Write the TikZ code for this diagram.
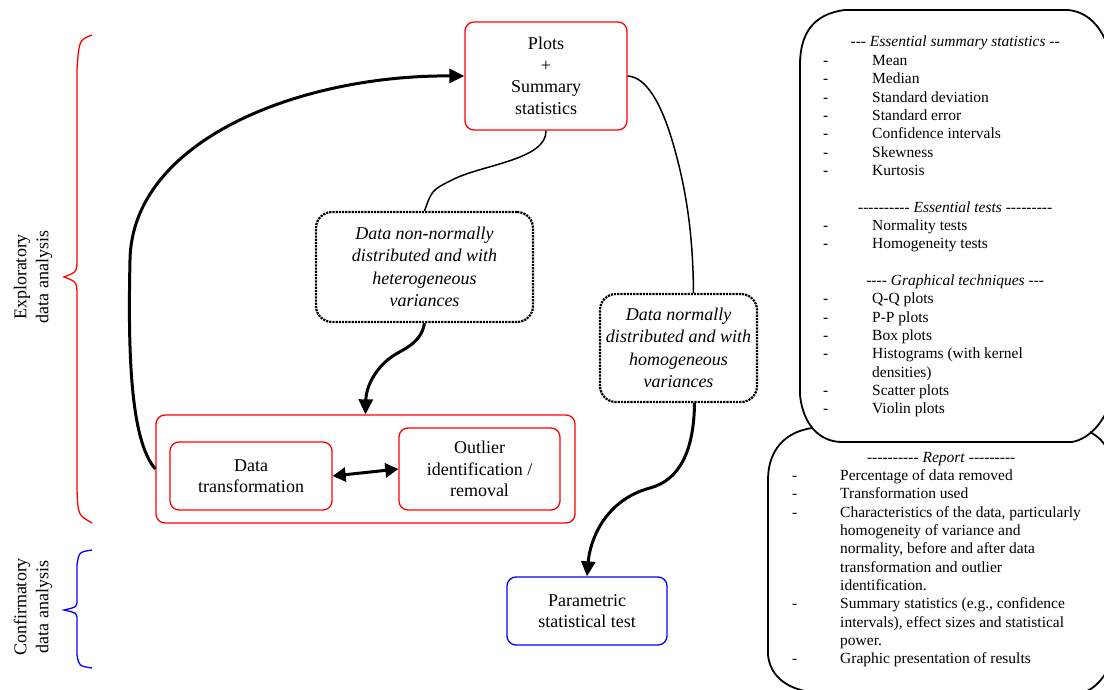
\documentclass[tikz,border=0pt]{standalone}
\usepackage{fontspec}
\setmainfont{Liberation Serif}
\usetikzlibrary{arrows.meta,calc}
\def\hh{-\kern0pt}
\begin{document}
\begin{tikzpicture}[x=1pt,y=-1pt,
  mainfont/.style={font=\fontsize{18}{21.5}\selectfont},
  redbox/.style={draw=red, line width=1.3pt, rounded corners=9pt, align=center, mainfont, inner sep=0pt},
  bluebox/.style={draw=blue, line width=1.3pt, rounded corners=9pt, align=center, mainfont, inner sep=0pt},
  dotbox/.style={draw=black, line width=2.2pt, densely dotted, rounded corners=16pt, align=center, font=\fontsize{18}{22.5}\selectfont\itshape, inner sep=0pt},
  thickarrow/.style={draw=black, line width=3pt, -{Triangle[length=15pt,width=14pt]}},
  twoarrow/.style={draw=black, line width=3pt, {Triangle[length=13pt,width=14pt]}-{Triangle[length=13pt,width=14pt]}},
  thinconn/.style={draw=black, line width=1.5pt},
  cloud/.style={draw=black, line width=1.8pt},
  listtext/.style={anchor=base west, inner sep=0pt, font=\fontsize{15.5}{18.35}\selectfont},
  sidelabel/.style={rotate=90, align=center, font=\fontsize{18}{22}\selectfont}
]
\useasboundingbox (0,0) rectangle (1104,690);

% braces
\draw[red, line width=1.3pt] (92,35) .. controls (79,40) .. (77,70) -- (77,258) .. controls (77,272) .. (64,277) .. controls (77,282) .. (77,296) -- (77,490) .. controls (78,515) .. (92,523);
\draw[blue, line width=1.3pt] (92,550) .. controls (79,552) .. (77,565) -- (77,600) .. controls (77,607) .. (64,610) .. controls (77,613) .. (77,620) -- (77,655) .. controls (79,666) .. (92,668);
\node[sidelabel] (expl) at (33,277) {Exploratory\\data analysis};
\node[sidelabel] (conf) at (33,607) {Confirmatory\\data analysis};

% main boxes
\node[redbox, minimum width=162pt, minimum height=108pt] (plots) at (546,76) {Plots\\+\\Summary\\statistics};
\node[redbox, minimum width=419pt, minimum height=108pt] (outer) at (365.5,469) {};
\node[redbox, minimum width=162pt, minimum height=68pt] (dt) at (251,476) {Data\\transformation};
\node[redbox, minimum width=161pt, minimum height=82pt] (ol) at (479.5,469) {Outlier\\identification /\\removal};
\node[bluebox, minimum width=160pt, minimum height=68pt] (param) at (587,611) {Parametric\\statistical test};
\node[dotbox, minimum width=217pt, minimum height=110pt] (d1) at (424.5,267) {Data non-normally\\distributed and with\\heterogeneous\\variances};
\node[dotbox, minimum width=157pt, minimum height=108pt] (d2) at (678.5,348) {Data normally\\distributed and with\\homogeneous\\variances};

% connectors
\draw[thickarrow] (outer.west) .. controls (130,440) and (128,350) .. (130,260) .. controls (132,140) and (300,75) .. (plots.west);
\draw[thinconn] (plots.south) .. controls (547,160) and (480,165) .. (452,180) .. controls (432,190) .. (d1.north);
\draw[thickarrow] (d1.south) .. controls (421,345) and (400,350) .. (390,358) .. controls (372,372) and (366,390) .. (outer.north);
\draw[thinconn] (plots.east) .. controls (645,77) and (660,100) .. (672,140) .. controls (690,200) and (693,250) .. ($(d2.north)+(15,0)$);
\draw[thickarrow] ($(d2.south)+(16,0)$) .. controls (694,450) and (680,480) .. (650,488) .. controls (605,500) and (590,540) .. (param.north);
\draw[twoarrow] (dt.east) -- (ol.west);

% right-hand boxes
\draw[cloud] (1112,60) .. controls (1105,30) and (1090,12) .. (1068,10) -- (845,10) .. controls (812,14) and (800,35) .. (800,65) -- (800,395) .. controls (803,425) and (820,442) .. (842,442) -- (1072,442) .. controls (1092,438) and (1104,420) .. (1112,400);
\draw[cloud] (1090,432) .. controls (1100,438) .. (1112,455);
\draw[cloud] (812,428) .. controls (785,432) and (768,450) .. (768,480) -- (768,655) .. controls (770,675) and (785,688) .. (810,692);
\draw[cloud] (1080,694) .. controls (1098,688) and (1106,675) .. (1112,660);

\node[listtext] (list1) at (823,47) {\begin{tabular}[t]{@{}p{49pt}@{}l@{}}
\multicolumn{2}{@{}l@{}}{\makebox[264pt][c]{\hh\hh\hh\ \textit{Essential summary statistics} \hh\hh}}\\
- & Mean\\
- & Median\\
- & Standard deviation\\
- & Standard error\\
- & Confidence intervals\\
- & Skewness\\
- & Kurtosis\\
 & \\
\multicolumn{2}{@{}l@{}}{\makebox[264pt][c]{\hh\hh\hh\hh\hh\hh\hh\hh\hh\hh\ \textit{Essential tests} \hh\hh\hh\hh\hh\hh\hh\hh\hh}}\\
- & Normality tests\\
- & Homogeneity tests\\
 & \\
\multicolumn{2}{@{}l@{}}{\makebox[264pt][c]{\hh\hh\hh\hh\ \textit{Graphical techniques} \hh\hh\hh}}\\
- & Q-Q plots\\
- & P-P plots\\
- & Box plots\\
- & Histograms (with kernel\\
 & densities)\\
- & Scatter plots\\
- & Violin plots
\end{tabular}};

\node[listtext] (list2) at (792,462) {\begin{tabular}[t]{@{}p{48pt}@{}l@{}}
\multicolumn{2}{@{}l@{}}{\makebox[298pt][c]{\hh\hh\hh\hh\hh\hh\hh\hh\hh\hh\ \textit{Report} \hh\hh\hh\hh\hh\hh\hh\hh\hh}}\\
- & Percentage of data removed\\
- & Transformation used\\
- & Characteristics of the data, particularly\\
 & homogeneity of variance and\\
 & normality, before and after data\\
 & transformation and outlier\\
 & identification.\\
- & Summary statistics (e.g., confidence\\
 & intervals), effect sizes and statistical\\
 & power.\\
- & Graphic presentation of results
\end{tabular}};
\end{tikzpicture}
\end{document}
